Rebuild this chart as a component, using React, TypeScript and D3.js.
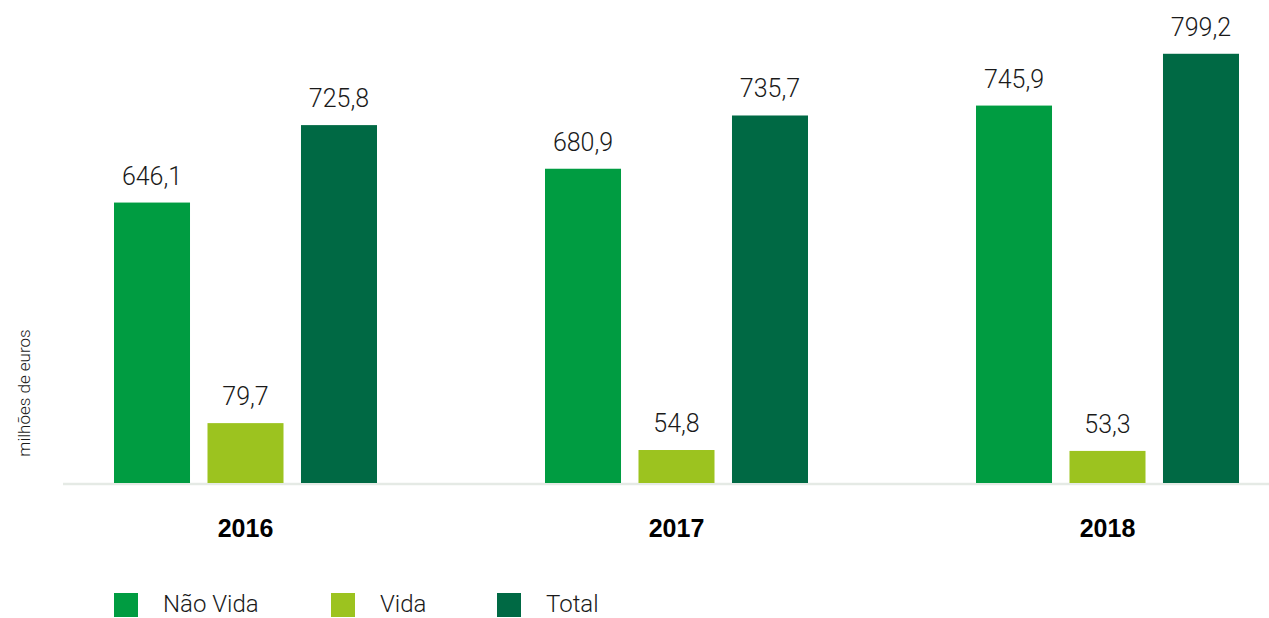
import React from "react";
import * as d3 from "d3";

const years = ["2016", "2017", "2018"];
const seriesNames = ["Não Vida", "Vida", "Total"];
const naoVida = [646.1, 680.9, 745.9];
const vida = [79.7, 54.8, 53.3];
const total = [725.8, 735.7, 799.2];
const colors = ["#009c41", "#9cc31f", "#006944"];
const yAxisLabel = "milhões de euros";
// Value axis of the original is compressed (not to scale); break points of the scale
const yBreaks = [0, 55, 80, 600, 800];
const yBreakFractions = [0, 0.077, 0.14, 0.548, 1];

const W = 1269;
const H = 618;
const baseline = 483;
const plotHeight = 430;

export default function App() {
  const values = [naoVida, vida, total];
  const x0 = d3.scalePoint<string>().domain(years).range([245.5, 1107.5]);
  const x1 = d3
    .scaleBand<string>()
    .domain(seriesNames)
    .range([-131.5, 131.5])
    .paddingInner(0.187)
    .paddingOuter(0);
  const y = d3
    .scaleLinear()
    .domain(yBreaks)
    .range(yBreakFractions.map((f) => baseline - f * plotHeight));
  const fmt = (v: number) => v.toFixed(1).replace(".", ",");
  const labelFont = "Roboto, 'Open Sans', sans-serif";
  const legendX = [114, 331, 497];

  return (
    <svg
      width={W}
      height={H}
      style={{ position: "absolute", left: 0, top: 0, background: "#fff" }}
    >
      <line x1={63} x2={1269} y1={484} y2={484} stroke="#e5eae5" strokeWidth={2.5} />
      {years.map((yr, i) => (
        <g key={yr} transform={`translate(${x0(yr)},0)`}>
          {seriesNames.map((s, j) => {
            const v = values[j][i];
            const bx = x1(s)!;
            const bw = x1.bandwidth();
            return (
              <g key={s}>
                <rect x={bx} y={y(v)} width={bw} height={baseline - y(v)} fill={colors[j]} />
                <text
                  x={bx + bw / 2}
                  y={y(v) - 18}
                  textAnchor="middle"
                  fontFamily={labelFont}
                  fontWeight={300}
                  fontSize={25}
                  fill="#1a1a1a"
                >
                  {fmt(v)}
                </text>
              </g>
            );
          })}
          <text
            x={0}
            y={537}
            textAnchor="middle"
            fontFamily="'Liberation Sans', Arial, sans-serif"
            fontWeight={700}
            fontSize={25}
            fill="#000"
          >
            {yr}
          </text>
        </g>
      ))}
      <text
        transform={`translate(30,393) rotate(-90)`}
        textAnchor="middle"
        fontFamily={labelFont}
        fontWeight={300}
        fontSize={17}
        fill="#1a1a1a"
      >
        {yAxisLabel}
      </text>
      {seriesNames.map((s, j) => (
        <g key={s}>
          <rect x={legendX[j]} y={593} width={24} height={24} fill={colors[j]} />
          <text
            x={legendX[j] + 49}
            y={612}
            fontFamily={labelFont}
            fontWeight={300}
            fontSize={24}
            fill="#1a1a1a"
          >
            {s}
          </text>
        </g>
      ))}
    </svg>
  );
}
